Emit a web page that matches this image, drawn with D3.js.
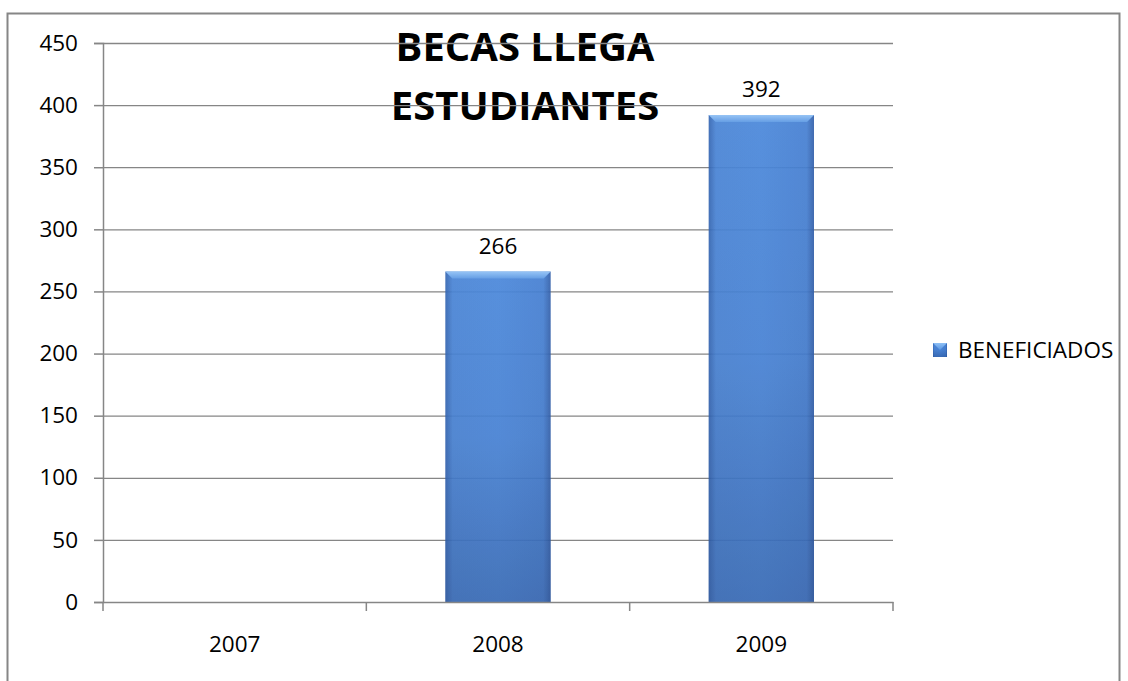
<!DOCTYPE html>
<html><head><meta charset="utf-8">
<script src="https://cdn.jsdelivr.net/npm/d3@7/dist/d3.min.js"></script>
<style>body{margin:0;background:#fff}svg{display:block}text{font-family:"Open Sans","DejaVu Sans",sans-serif}</style>
</head><body>
<svg id="c" width="1128" height="681"></svg>
<script>
const categories = ["2007", "2008", "2009"];
const values = [0, 266, 392];
const yTicks = [0, 50, 100, 150, 200, 250, 300, 350, 400, 450];
const seriesName = "BENEFICIADOS";
const titleLines = ["BECAS LLEGA", "ESTUDIANTES"];

const svg = d3.select("#c");
const pLeft = 103, pRight = 893, pTop = 43, pBottom = 602;
const FS = 22.5;

// outer frame
svg.append("rect").attr("x", 7.5).attr("y", 13.5).attr("width", 1112).attr("height", 700)
  .attr("fill", "#fff").attr("stroke", "#868686").attr("stroke-width", 2);

const x = d3.scaleBand().domain(categories).range([pLeft, pRight]).paddingInner(0.6).paddingOuter(0.3);
const xb = d3.scaleBand().domain(categories).range([pLeft, pRight]);
const y = d3.scaleLinear().domain([0, 450]).range([pBottom, pTop]);

const defs = svg.append("defs");
const gh = defs.append("linearGradient").attr("id", "gh").attr("x1", 0).attr("x2", 1).attr("y1", 0).attr("y2", 0);
gh.append("stop").attr("offset", 0).attr("stop-color", "#3566b2");
gh.append("stop").attr("offset", 0.07).attr("stop-color", "#4a85d6");
gh.append("stop").attr("offset", 0.5).attr("stop-color", "#4b88db");
gh.append("stop").attr("offset", 0.93).attr("stop-color", "#4680d2");
gh.append("stop").attr("offset", 1).attr("stop-color", "#3360aa");
const gv = defs.append("linearGradient").attr("id", "gv").attr("x1", 0).attr("x2", 0).attr("y1", 0).attr("y2", 1);
gv.append("stop").attr("offset", 0).attr("stop-color", "#1a3a78").attr("stop-opacity", 0);
gv.append("stop").attr("offset", 0.5).attr("stop-color", "#1a3a78").attr("stop-opacity", 0.08);
gv.append("stop").attr("offset", 1).attr("stop-color", "#1a3a78").attr("stop-opacity", 0.38);
const gt = defs.append("linearGradient").attr("id", "gt").attr("x1", 0).attr("x2", 0).attr("y1", 0).attr("y2", 1);
gt.append("stop").attr("offset", 0).attr("stop-color", "#8fc0f5");
gt.append("stop").attr("offset", 1).attr("stop-color", "#5a97e3");

// title (behind gridlines)
svg.selectAll("text.title").data(titleLines).join("text").attr("class", "title")
  .attr("x", 525).attr("y", (d, i) => 61 + i * 59).attr("text-anchor", "middle")
  .attr("font-size", 40).attr("font-weight", "bold").attr("fill", "#000").text(d => d);

// gridlines
svg.append("g").selectAll("line").data(yTicks.filter(t => t > 0)).join("line")
  .attr("x1", pLeft).attr("x2", pRight).attr("y1", d => y(d) + 0.5).attr("y2", d => y(d) + 0.5)
  .attr("stroke", "#868686").attr("stroke-width", 1.3);

// bars
const bars = svg.append("g").selectAll("g").data(values.map((v, i) => ({c: categories[i], v}))).join("g")
  .attr("opacity", 0.93);
bars.append("rect").attr("x", d => x(d.c)).attr("y", d => y(d.v)).attr("width", x.bandwidth())
  .attr("height", d => y(0) - y(d.v)).attr("fill", "url(#gh)");
bars.append("rect").attr("x", d => x(d.c)).attr("y", d => y(d.v)).attr("width", x.bandwidth())
  .attr("height", d => y(0) - y(d.v)).attr("fill", "url(#gv)");
bars.filter(d => d.v > 0).append("path").attr("d", d => {
  const x0 = x(d.c), x1 = x0 + x.bandwidth(), yt = y(d.v);
  return `M${x0},${yt}L${x1},${yt}L${x1 - 7},${yt + 7}L${x0 + 7},${yt + 7}Z`;
}).attr("fill", "url(#gt)");

// value labels
svg.append("g").selectAll("text").data(values.map((v, i) => ({c: categories[i], v})).filter(d => d.v > 0)).join("text")
  .attr("x", d => x(d.c) + x.bandwidth() / 2).attr("y", d => y(d.v) - 18)
  .attr("text-anchor", "middle").attr("font-size", FS).attr("fill", "#000").text(d => d.v);

// y axis
const ya = svg.append("g").attr("transform", `translate(${pLeft},0)`)
  .call(d3.axisLeft(y).tickValues(yTicks).tickSize(9).tickPadding(16));
ya.select(".domain").attr("stroke", "#868686").attr("stroke-width", 1.5);
ya.selectAll(".tick line").attr("stroke", "#868686").attr("stroke-width", 1.5);
ya.selectAll(".tick text").attr("font-size", FS).attr("fill", "#000").attr("font-family", '"Open Sans",sans-serif');

// x axis
const xa = svg.append("g").attr("transform", `translate(0,${pBottom})`)
  .call(d3.axisBottom(xb).tickSize(0));
xa.select(".domain").attr("stroke", "#868686").attr("stroke-width", 1.5);
xa.selectAll(".tick text").attr("y", 50).attr("dy", null).attr("font-size", FS).attr("fill", "#000")
  .attr("font-family", '"Open Sans",sans-serif');
const bounds = categories.map(c => xb(c)).concat([xb(categories[categories.length - 1]) + xb.bandwidth()]);
svg.append("g").selectAll("line").data(bounds).join("line")
  .attr("x1", d => d).attr("x2", d => d).attr("y1", pBottom).attr("y2", pBottom + 9)
  .attr("stroke", "#868686").attr("stroke-width", 1.5);

// legend
const lg = svg.append("g").attr("transform", "translate(933,343)");
lg.append("rect").attr("width", 14).attr("height", 14).attr("fill", "url(#gh)");
lg.append("rect").attr("width", 14).attr("height", 14).attr("fill", "url(#gv)");
lg.append("path").attr("d", "M0,0L14,0L7,7Z").attr("fill", "url(#gt)");
lg.append("text").attr("x", 25).attr("y", 15).attr("font-size", FS).attr("fill", "#000").text(seriesName);
</script>
</body></html>
